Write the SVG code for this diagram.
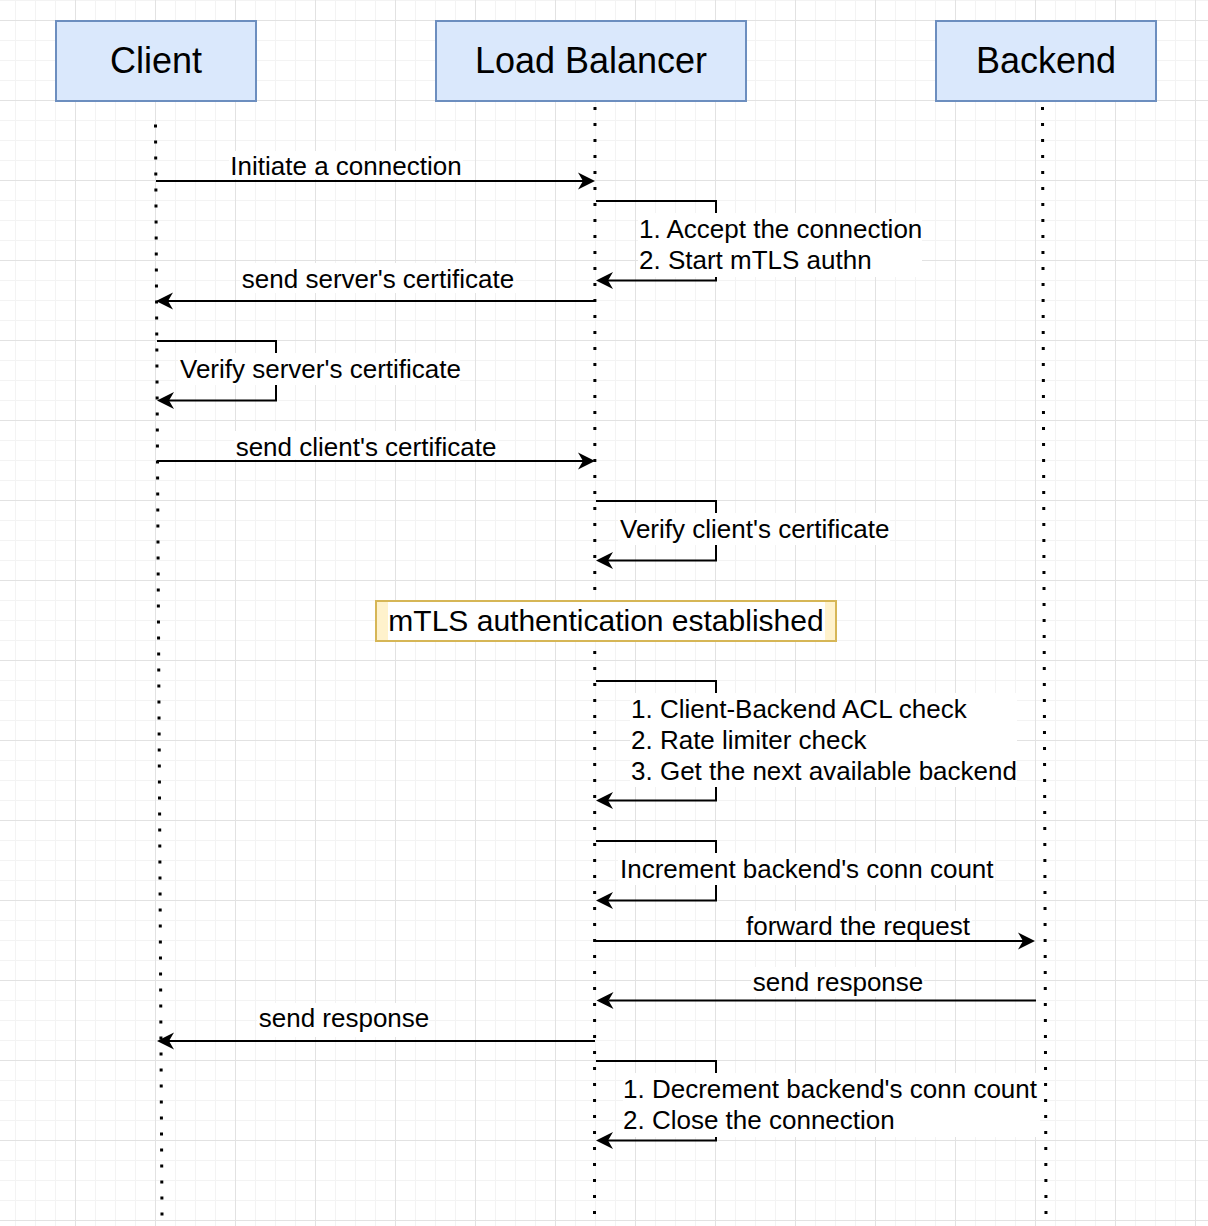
<svg xmlns="http://www.w3.org/2000/svg" width="1208" height="1226" viewBox="0 0 1208 1226">
<style>
.t{font-family:"Liberation Sans",Arial,Helvetica,sans-serif;fill:#000}
.lbl{font-size:26px}
.title{font-size:36px;text-anchor:middle}
.mid{text-anchor:middle}
.life{stroke:#000;stroke-width:3;stroke-dasharray:3 13;fill:none}
.msg{stroke:#000;stroke-width:2;fill:none;marker-end:url(#arrow)}
.bg{fill:#fff}
.actor{fill:#dae8fc;stroke:#6c8ebf;stroke-width:2}
.note{fill:#fff2cc;stroke:#d6b656;stroke-width:2}
</style>
<defs>
<pattern id="grid" x="-5" y="20" width="80" height="80" patternUnits="userSpaceOnUse">
<rect width="80" height="80" fill="#fff"/>
<g fill="#f3f3f3">
<rect x="20" y="0" width="1" height="80"/><rect x="40" y="0" width="1" height="80"/><rect x="60" y="0" width="1" height="80"/>
<rect x="0" y="20" width="80" height="1"/><rect x="0" y="40" width="80" height="1"/><rect x="0" y="60" width="80" height="1"/>
</g>
<g fill="#e2e2e2">
<rect x="0" y="0" width="1" height="80"/><rect x="0" y="0" width="80" height="1"/>
</g>
</pattern>
<marker id="arrow" viewBox="-18 -9 19 18" refX="-12" refY="0" markerWidth="19" markerHeight="18" markerUnits="userSpaceOnUse" orient="auto">
<path d="M0,0 L-17,-8.5 L-12,0 L-17,8.5 Z" fill="#000"/>
</marker>
</defs>
<rect width="1208" height="1226" fill="url(#grid)"/>

<g id="lifelines">
<line class="life" x1="155.5" y1="124.5" x2="162" y2="1216"/>
<line class="life" x1="595" y1="107" x2="594.5" y2="1216"/>
<line class="life" x1="1042.5" y1="107" x2="1046" y2="1216"/>
</g>

<g id="connectors">
<path class="msg" d="M156,181 H583"/>
<path class="msg" d="M596,201 H716 V280.5 H608"/>
<path class="msg" d="M596,301 H168"/>
<path class="msg" d="M157,341 H276 V400.5 H169"/>
<path class="msg" d="M157,461 H583"/>
<path class="msg" d="M596,501 H716 V560.5 H608"/>
<path class="msg" d="M596,681 H716 V800.5 H608"/>
<path class="msg" d="M596,841 H716 V900.5 H608"/>
<path class="msg" d="M595,941 H1023"/>
<path class="msg" d="M1036,1000.5 H608.5"/>
<path class="msg" d="M595,1041 H169"/>
<path class="msg" d="M596,1061 H716 V1140.5 H608"/>
</g>

<g id="labels">
<rect class="bg" x="229" y="151" width="234" height="28"/>
<text class="t lbl mid" x="346" y="175">Initiate a connection</text>

<rect class="bg" x="638" y="213" width="284" height="64"/>
<text class="t lbl" x="639" y="238">1. Accept the connection</text>
<text class="t lbl" x="639" y="269">2. Start mTLS authn</text>

<rect class="bg" x="240" y="263" width="276" height="30"/>
<text class="t lbl mid" x="378" y="288">send server's certificate</text>

<rect class="bg" x="178" y="353" width="282" height="32"/>
<text class="t lbl" x="180" y="378">Verify server's certificate</text>

<rect class="bg" x="234" y="431" width="264" height="28"/>
<text class="t lbl mid" x="366" y="456">send client's certificate</text>

<rect class="bg" x="618" y="513" width="272" height="32"/>
<text class="t lbl" x="620" y="538">Verify client's certificate</text>

<rect class="bg" x="630" y="693" width="387" height="94"/>
<text class="t lbl" x="631" y="718">1. Client-Backend ACL check</text>
<text class="t lbl" x="631" y="749">2. Rate limiter check</text>
<text class="t lbl" x="631" y="780">3. Get the next available backend</text>

<rect class="bg" x="618" y="853" width="377" height="32"/>
<text class="t lbl" x="620" y="878">Increment backend's conn count</text>

<rect class="bg" x="744" y="911" width="228" height="28"/>
<text class="t lbl mid" x="858" y="935">forward the request</text>

<rect class="bg" x="751" y="967" width="173" height="30"/>
<text class="t lbl mid" x="838" y="991">send response</text>

<rect class="bg" x="257" y="1003" width="172" height="34"/>
<text class="t lbl mid" x="344" y="1027">send response</text>

<rect class="bg" x="623" y="1073" width="417" height="64"/>
<text class="t lbl" x="623" y="1098">1. Decrement backend's conn count</text>
<text class="t lbl" x="623" y="1129">2. Close the connection</text>
</g>

<g id="node-client">
<rect class="actor" x="56" y="21" width="200" height="80"/>
<text class="t title" x="156" y="73">Client</text>
</g>
<g id="node-loadbalancer">
<rect class="actor" x="436" y="21" width="310" height="80"/>
<text class="t title" x="591" y="73">Load Balancer</text>
</g>
<g id="node-backend">
<rect class="actor" x="936" y="21" width="220" height="80"/>
<text class="t title" x="1046" y="73">Backend</text>
</g>
<g id="node-mtls">
<rect class="note" x="376" y="601" width="460" height="40"/>
<rect class="bg" x="388" y="602" width="437" height="38"/>
<text class="t mid" style="font-size:30px" x="606" y="631">mTLS authentication established</text>
</g>
</svg>
